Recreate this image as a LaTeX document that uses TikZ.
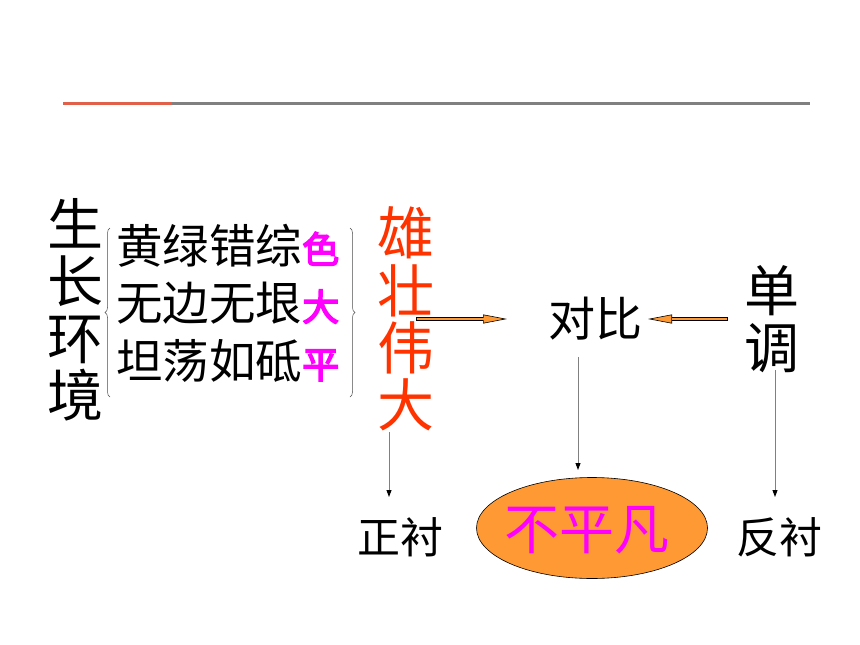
\documentclass[tikz,border=0pt]{standalone}
\usepackage{fontspec}
\newfontfamily\cjk{Noto Sans CJK SC}
\newfontfamily\cjkb[FakeBold=4]{Noto Sans CJK SC}
\usetikzlibrary{arrows.meta,decorations.pathreplacing,shapes.geometric,calc}
\definecolor{arrorange}{HTML}{FF9933}
\definecolor{titlered}{HTML}{FF3300}
\definecolor{rulered}{HTML}{E0604A}
\definecolor{rulegray}{HTML}{808080}
\definecolor{pmag}{HTML}{FF00FF}
\begin{document}
\begin{tikzpicture}[x=1pt,y=-1pt,
  txt/.style={inner sep=0pt, align=center},
  downarr/.style={draw=rulegray, line width=0.9pt, -{Triangle[length=7pt,width=5pt,color=black]}},
  bracestyle/.style={draw=black!70, line width=0.5pt, decorate, decoration={brace, amplitude=5pt}},
]
\fill[white] (0,0) rectangle (860,645);
\useasboundingbox (0,0) rectangle (860,645);
% top rule
\draw[rulegray, line width=3pt] (63,103) -- (810,103);
\draw[rulered, line width=3pt] (63,103) -- (172,103);

% nodes
\node[txt, font=\cjk\fontsize{56}{57}\selectfont] (env) at (75,310) {生\\长\\环\\境};
\node[txt, align=left, anchor=west, font=\cjk\fontsize{46.5}{57.5}\selectfont] (rows) at (116,303)
  {黄绿错综{\color{pmag}\cjkb\fontsize{37}{40}\selectfont 色}\\
   无边无垠{\color{pmag}\cjkb\fontsize{37}{40}\selectfont 大}\\
   坦荡如砥{\color{pmag}\cjkb\fontsize{37}{40}\selectfont 平}};
\node[txt, text=titlered, font=\cjk\fontsize{57}{57.5}\selectfont] (xiong) at (406,319) {雄\\壮\\伟\\大};
\node[txt, font=\cjk\fontsize{47}{50}\selectfont] (duibi) at (595,319) {对比};
\node[txt, font=\cjk\fontsize{55}{57}\selectfont] (dandiao) at (772,319) {单\\调};
\node[txt, font=\cjk\fontsize{43}{45}\selectfont] (zheng) at (400,537) {正衬};
\node[txt, font=\cjk\fontsize{43}{45}\selectfont] (fan) at (779,537) {反衬};
\node[ellipse, draw=black, line width=0.6pt, fill=arrorange, minimum width=231pt, minimum height=101pt, inner sep=0pt] (ell) at (592,528) {};
\node[txt, text=pmag, font=\cjk\fontsize{55}{57}\selectfont] (bpf) at (587,530) {不平凡};

% braces
\coordinate (lbB) at (110,397);
\coordinate (lbT) at (110,228);
\coordinate (rbT) at (350,228);
\coordinate (rbB) at (350,397);
\draw[bracestyle] (lbB) -- (lbT);
\draw[bracestyle] (rbT) -- (rbB);

% orange arrows
\coordinate (oa1s) at (416,319);
\coordinate (oa1e) at (507,319);
\coordinate (oa2s) at (728,319);
\coordinate (oa2e) at (648,319);
\foreach \s/\e in {oa1s/oa1e, oa2s/oa2e}{
  \draw[black, line width=4.2pt, -{Triangle[length=24pt,width=9pt,line width=0.6pt,fill=arrorange,color=black]}] (\s) -- (\e);
  \draw[arrorange, line width=2.8pt, shorten <=0.7pt, shorten >=23.5pt] (\s) -- (\e);
}

% down arrows
\coordinate (d1s) at (389,432);
\coordinate (d1e) at (389,497);
\coordinate (d2s) at (578,357);
\coordinate (d2e) at (578,470);
\coordinate (d3s) at (775,370);
\coordinate (d3e) at (775,497);
\draw[downarr] (d1s) -- (d1e);
\draw[downarr] (d2s) -- (d2e);
\draw[downarr] (d3s) -- (d3e);
\end{tikzpicture}
\end{document}
